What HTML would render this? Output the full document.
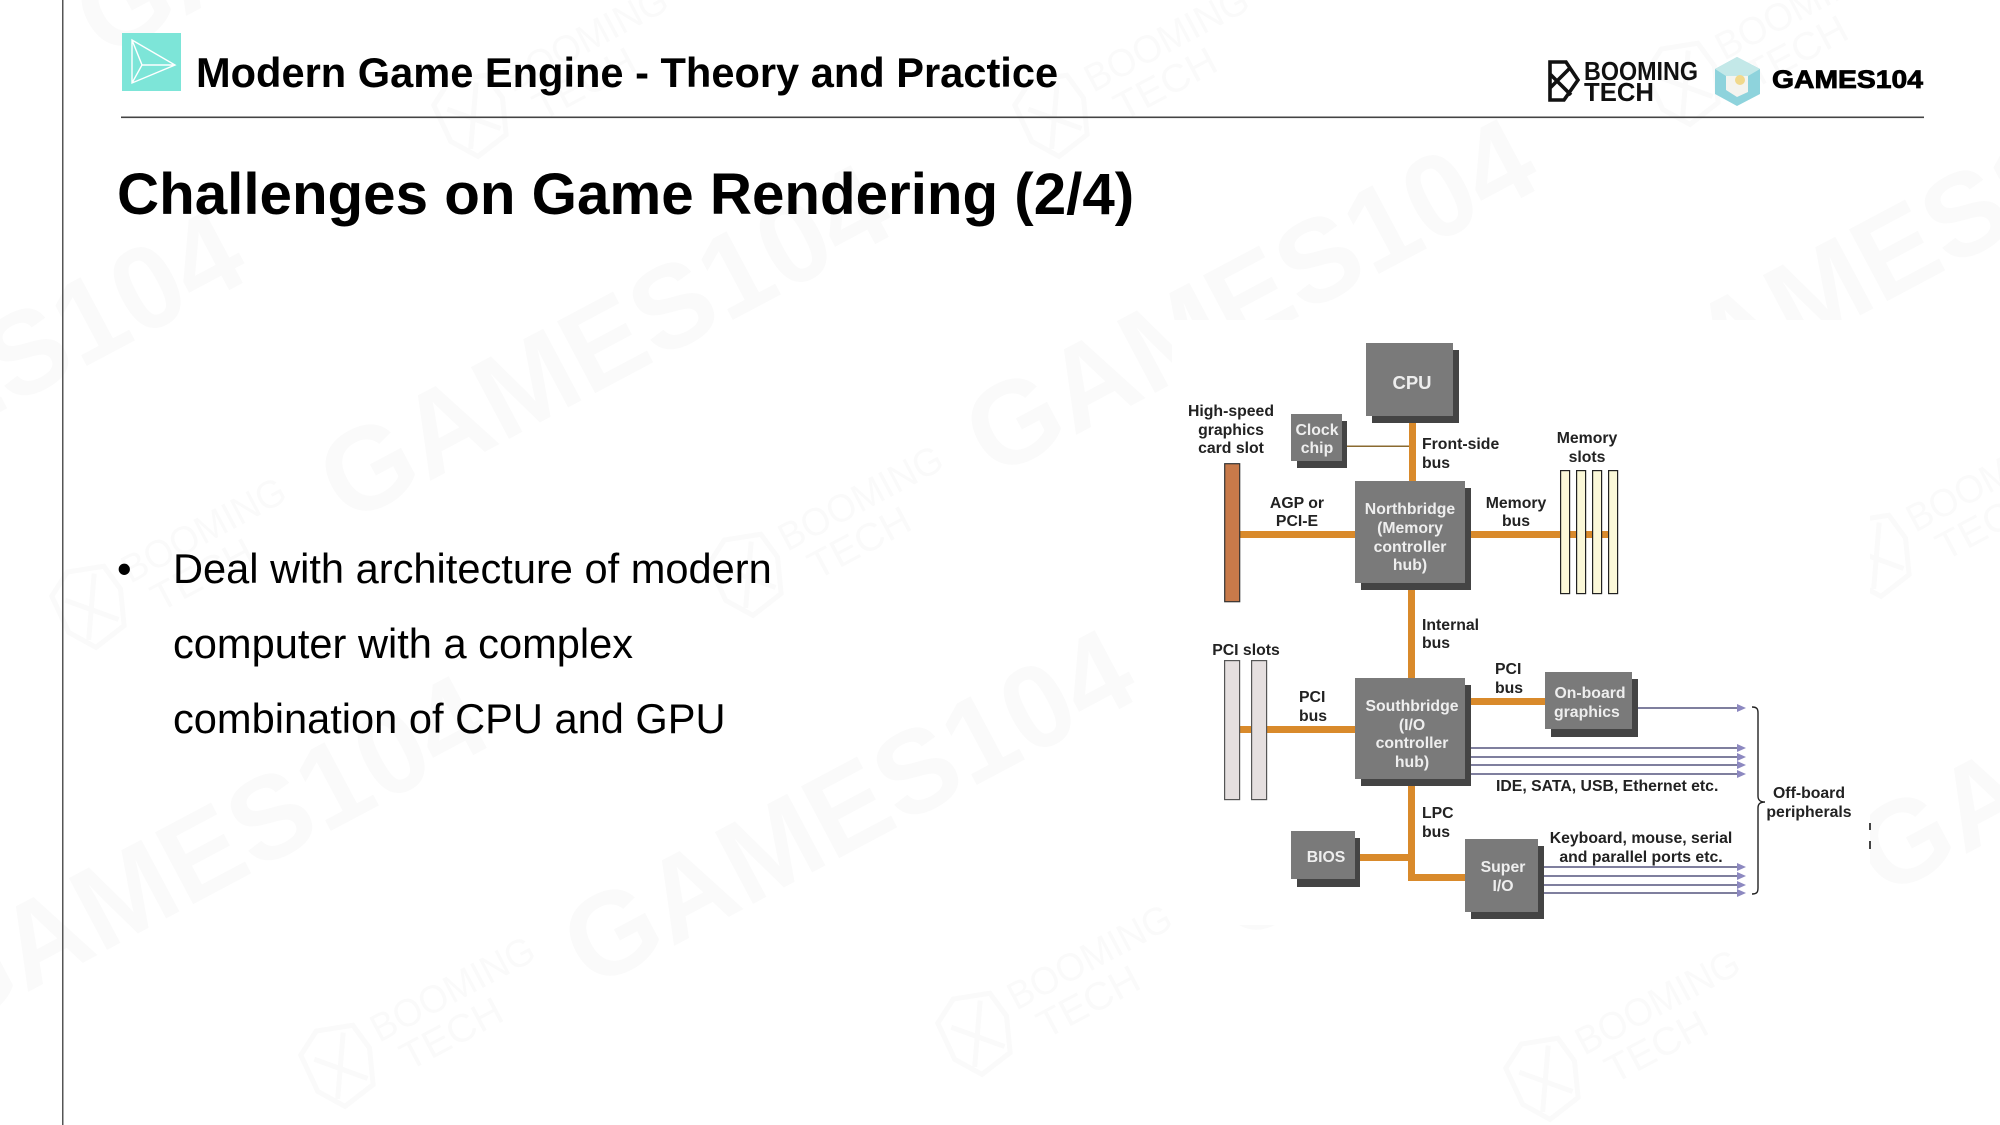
<!DOCTYPE html>
<html><head><meta charset="utf-8"><style>
html,body{margin:0;padding:0;background:#fff;width:2000px;height:1125px;overflow:hidden}
svg{display:block;font-family:"Liberation Sans",sans-serif}
.d text{font-weight:bold;font-size:15.8px;fill:#222;text-anchor:middle}
.d text.l{text-anchor:start}
.d text.i{fill:#eee}
.box{fill:#7a7a7a}.sh{fill:#444}.o{fill:#d98a2b}
.p{stroke:#55557f;stroke-width:1.4;fill:none}
.a{fill:#8c88c0}
</style></head><body>
<svg width="2000" height="1125" viewBox="0 0 2000 1125" xmlns="http://www.w3.org/2000/svg">
<defs>
<g id="gm"><text font-size="118" font-weight="bold" fill="#fafafa" textLength="625" lengthAdjust="spacingAndGlyphs">GAMES104</text></g>
<g id="bt"><path d="M-110,-30L-85,-44L-50,-32L-46,-4L-60,30L-95,36L-112,10ZM-100,-20L-62,22M-62,-30L-98,26" fill="none" stroke="#fafafa" stroke-width="5"/><text x="-35" y="-4" font-size="39" fill="#fafafa" textLength="180" lengthAdjust="spacingAndGlyphs">BOOMING</text><text x="-22" y="35" font-size="39" fill="#fafafa" textLength="110" lengthAdjust="spacingAndGlyphs">TECH</text></g>
</defs>
<g>
<use href="#gm" transform="translate(347,525) rotate(-28)"/>
<use href="#gm" transform="translate(993,479) rotate(-28)"/>
<use href="#gm" transform="translate(1639,433) rotate(-28)"/>
<use href="#gm" transform="translate(-299,571) rotate(-28)"/>
<use href="#gm" transform="translate(591,990) rotate(-28)"/>
<use href="#gm" transform="translate(-55,1036) rotate(-28)"/>
<use href="#gm" transform="translate(1237,944) rotate(-28)"/>
<use href="#gm" transform="translate(1883,898) rotate(-28)"/>
<use href="#gm" transform="translate(103,60) rotate(-28)"/>
<use href="#gm" transform="translate(749,14) rotate(-28)"/>
<use href="#gm" transform="translate(1395,-32) rotate(-28)"/>
<use href="#bt" transform="translate(412,1030) rotate(-28)"/>
<use href="#bt" transform="translate(163,571) rotate(-28)"/>
<use href="#bt" transform="translate(820,539) rotate(-28)"/>
<use href="#bt" transform="translate(1049,998) rotate(-28)"/>
<use href="#bt" transform="translate(1617,1043) rotate(-28)"/>
<use href="#bt" transform="translate(1948,520) rotate(-28)"/>
<use href="#bt" transform="translate(545,80) rotate(-28)"/>
<use href="#bt" transform="translate(1126,80) rotate(-28)"/>
<use href="#bt" transform="translate(1757,48) rotate(-28)"/>
</g>
<rect x="1172" y="320" width="698" height="605" fill="#fff"/>
<rect x="62" y="0" width="1.5" height="1125" fill="#555"/>
<rect x="121" y="116.5" width="1803" height="1.6" fill="#444"/>
<rect x="122" y="33" width="59" height="58" fill="#7de5d8"/>
<path d="M132,40L175,65L132,83ZM132,40L142,65L132,83M142,65H175" fill="none" stroke="#fff" stroke-width="1.4"/>
<text x="196" y="87" font-size="41.6" font-weight="bold" fill="#000">Modern Game Engine - Theory and Practice</text>
<text x="117" y="214" font-size="58.3" font-weight="bold" fill="#000">Challenges on Game Rendering (2/4)</text>
<g font-size="41.6" fill="#000">
<text x="117" y="583">•</text>
<text x="173" y="583">Deal with architecture of modern</text>
<text x="173" y="658">computer with a complex</text>
<text x="173" y="733">combination of CPU and GPU</text>
</g>
<!-- logos -->
<path d="M1550,62H1566L1578,80L1564,100H1550ZM1550,88L1571,67M1550,74L1571,95" fill="none" stroke="#111" stroke-width="3.6"/>
<text x="1584" y="80" font-size="26" font-weight="bold" fill="#111" textLength="114" lengthAdjust="spacingAndGlyphs">BOOMING</text>
<text x="1584" y="101" font-size="26" font-weight="bold" fill="#111" textLength="70" lengthAdjust="spacingAndGlyphs">TECH</text>
<path d="M1737,57L1760,69V94L1737,106L1715,94V69Z" fill="#8ed3dc"/>
<path d="M1715,69L1737,57L1760,69L1748,76H1726Z" fill="#c3e8e8"/>
<path d="M1726,76H1748V92L1737,97L1726,90Z" fill="#f4f4ef"/>
<circle cx="1740" cy="80" r="5" fill="#f1d98c"/>
<text x="1772" y="88" font-size="25" font-weight="bold" fill="#000" stroke="#000" stroke-width=".8" textLength="151" lengthAdjust="spacingAndGlyphs">GAMES104</text>
<!-- diagram -->
<g class="d" style="filter:blur(.35px)">
<rect class="o" x="1409" y="420" width="7" height="62"/>
<rect x="1347" y="445.5" width="62" height="1.5" fill="#8a6a30"/>
<rect class="o" x="1240" y="531" width="116" height="7"/>
<rect class="o" x="1470" y="531" width="148" height="7"/>
<rect class="o" x="1408" y="588" width="7" height="91"/>
<rect class="o" x="1240" y="726" width="116" height="7"/>
<rect class="o" x="1470" y="698" width="76" height="7"/>
<rect class="o" x="1408" y="785" width="7" height="96"/>
<rect class="o" x="1408" y="874" width="58" height="7"/>
<rect class="o" x="1359" y="854" width="50" height="7"/>
<rect x="1224.7" y="463.7" width="15" height="138" fill="#c87a4a" stroke="#333" stroke-width="1.2"/>
<g fill="#fbf8d8" stroke="#222" stroke-width="1.2">
<rect x="1560.6" y="470.6" width="9" height="123"/>
<rect x="1576.6" y="470.6" width="9" height="123"/>
<rect x="1592.6" y="470.6" width="9" height="123"/>
<rect x="1608.6" y="470.6" width="9" height="123"/>
</g>
<g fill="#e5dfdf" stroke="#555" stroke-width="1.2">
<rect x="1224.6" y="660.6" width="15" height="139"/>
<rect x="1251.6" y="660.6" width="15" height="139"/>
</g>
<rect class="sh" x="1372" y="350" width="87" height="73"/><rect class="box" x="1366" y="343" width="87" height="73"/>
<rect class="sh" x="1297" y="421" width="50" height="47"/><rect class="box" x="1291" y="414" width="51" height="47"/>
<rect class="sh" x="1361" y="488" width="110" height="102"/><rect class="box" x="1355" y="481" width="110" height="102"/>
<rect class="sh" x="1361" y="685" width="110" height="101"/><rect class="box" x="1355" y="678" width="110" height="101"/>
<rect class="sh" x="1551" y="679" width="87" height="58"/><rect class="box" x="1545" y="672" width="87" height="57"/>
<rect class="sh" x="1297" y="838" width="63" height="49"/><rect class="box" x="1291" y="831" width="64" height="48"/>
<rect class="sh" x="1471" y="846" width="73" height="73"/><rect class="box" x="1465" y="839" width="73" height="73"/>
<g class="p">
<path d="M1638,708H1738"/>
<path d="M1471,748H1738M1471,757H1738M1471,765H1738M1471,774H1738"/>
<path d="M1544,867H1738M1544,876H1738M1544,885H1738M1544,893H1738"/>
<path d="M1752,707C1757,707 1758,709 1758,713V796C1758,800 1760,802 1765,802C1760,802 1758,804 1758,808V888C1758,892 1757,894 1752,894" stroke="#222"/>
</g>
<g class="a">
<path d="M1737,704L1746,708L1737,712Z"/>
<path d="M1737,744L1746,748L1737,752Z"/><path d="M1737,753L1746,757L1737,761Z"/><path d="M1737,761L1746,765L1737,769Z"/><path d="M1737,770L1746,774L1737,778Z"/>
<path d="M1737,863L1746,867L1737,871Z"/><path d="M1737,872L1746,876L1737,880Z"/><path d="M1737,881L1746,885L1737,889Z"/><path d="M1737,889L1746,893L1737,897Z"/>
</g>
<text class="i" x="1412" y="389" style="font-size:18.5px">CPU</text>
<text class="i" x="1317" y="435">Clock</text><text class="i" x="1317" y="453">chip</text>
<text class="i" x="1410" y="514">Northbridge</text><text class="i" x="1410" y="533">(Memory</text><text class="i" x="1410" y="552">controller</text><text class="i" x="1410" y="570">hub)</text>
<text class="i" x="1412" y="711">Southbridge</text><text class="i" x="1412" y="730">(I/O</text><text class="i" x="1412" y="748">controller</text><text class="i" x="1412" y="767">hub)</text>
<text class="i" x="1590" y="698">On-board</text><text class="i l" x="1554" y="717">graphics</text>
<text class="i" x="1326" y="862">BIOS</text>
<text class="i" x="1503" y="872">Super</text><text class="i" x="1503" y="891">I/O</text>
<text x="1231" y="416">High-speed</text><text x="1231" y="435">graphics</text><text x="1231" y="453">card slot</text>
<text class="l" x="1422" y="449">Front-side</text><text class="l" x="1422" y="468">bus</text>
<text x="1587" y="443">Memory</text><text x="1587" y="462">slots</text>
<text x="1297" y="508">AGP or</text><text x="1297" y="526">PCI-E</text>
<text x="1516" y="508">Memory</text><text x="1516" y="526">bus</text>
<text class="l" x="1422" y="630">Internal</text><text class="l" x="1422" y="648">bus</text>
<text x="1246" y="655">PCI slots</text>
<text class="l" x="1299" y="702">PCI</text><text class="l" x="1299" y="721">bus</text>
<text class="l" x="1495" y="674">PCI</text><text class="l" x="1495" y="693">bus</text>
<text class="l" x="1496" y="791">IDE, SATA, USB, Ethernet etc.</text>
<text class="l" x="1422" y="818">LPC</text><text class="l" x="1422" y="837">bus</text>
<text x="1641" y="843">Keyboard, mouse, serial</text><text x="1641" y="862">and parallel ports etc.</text>
<text x="1809" y="798">Off-board</text><text x="1809" y="817">peripherals</text>
</g>
<rect x="1869" y="823" width="2" height="7" fill="#444"/>
<rect x="1869" y="841" width="2" height="8" fill="#444"/>
</svg>
</body></html>
